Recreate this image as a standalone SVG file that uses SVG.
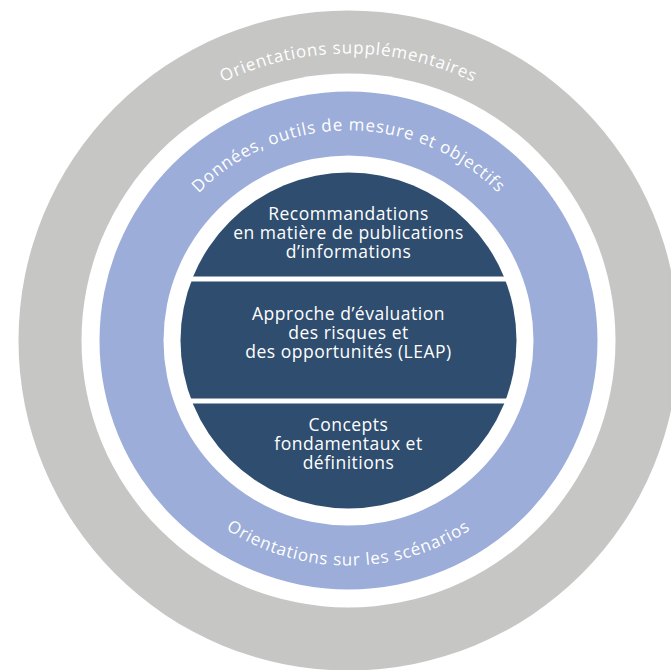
<svg xmlns="http://www.w3.org/2000/svg" width="671" height="670" viewBox="0 0 671 670">
<style>
.ring-label{font-family:"Open Sans","Noto Sans","Liberation Sans",sans-serif;font-size:17px;fill:#ffffff;letter-spacing:0.8px}
.core-label{font-family:"Open Sans","Noto Sans","Liberation Sans",sans-serif;font-size:17.5px;font-weight:500;letter-spacing:0.5px;fill:#ffffff;text-anchor:middle}
.core{fill:#2e4d6f}
</style>
<defs>
<clipPath id="coreClip"><circle cx="348.5" cy="340.5" r="168"/></clipPath>
<path id="arcOuter" d="M164,120.7 A287,287 0 0,1 533,120.7"/>
<path id="arcBlueTop" d="M166.6,235.5 A210,210 0 0,1 530.4,235.5"/>
<path id="arcBlueBottom" d="M153.6,453 A225,225 0 0,0 543.4,453"/>
</defs>
<rect width="671" height="670" fill="#ffffff"/>
<g id="ring-orientations-supplementaires">
<circle cx="348.5" cy="340.5" r="330" fill="#c6c6c5"/>
<circle cx="348.5" cy="340.5" r="267" fill="#ffffff"/>
<text class="ring-label"><textPath href="#arcOuter" startOffset="50%" text-anchor="middle">Orientations supplémentaires</textPath></text>
</g>
<g id="ring-donnees">
<circle cx="348.5" cy="340.5" r="249" fill="#9badd8"/>
<circle cx="348.5" cy="340.5" r="185" fill="#ffffff"/>
<text class="ring-label"><textPath href="#arcBlueTop" startOffset="50%" text-anchor="middle">Données, outils de mesure et objectifs</textPath></text>
<text class="ring-label"><textPath href="#arcBlueBottom" startOffset="50%" text-anchor="middle">Orientations sur les scénarios</textPath></text>
</g>
<g id="core-recommandations">
<rect class="core" x="170" y="170" width="360" height="106.5" clip-path="url(#coreClip)"/>
<text class="core-label" x="348.5" y="220">Recommandations</text>
<text class="core-label" x="348.5" y="239">en matière de publications</text>
<text class="core-label" x="348.5" y="258">d’informations</text>
</g>
<g id="core-leap">
<rect class="core" x="170" y="281.5" width="360" height="117" clip-path="url(#coreClip)"/>
<text class="core-label" x="348.5" y="320">Approche d’évaluation</text>
<text class="core-label" x="348.5" y="339">des risques et</text>
<text class="core-label" x="348.5" y="358">des opportunités (LEAP)</text>
</g>
<g id="core-concepts">
<rect class="core" x="170" y="403.5" width="360" height="110" clip-path="url(#coreClip)"/>
<text class="core-label" x="348.5" y="431">Concepts</text>
<text class="core-label" x="348.5" y="450">fondamentaux et</text>
<text class="core-label" x="348.5" y="469">définitions</text>
</g>
<g id="connectors"/>
</svg>
